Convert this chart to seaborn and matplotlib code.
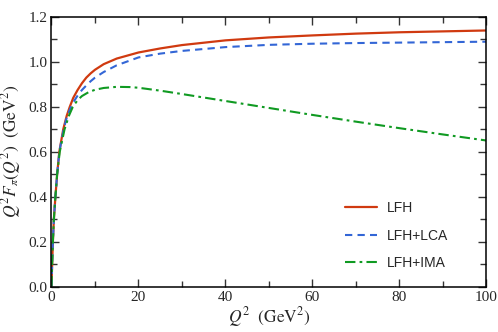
import matplotlib

matplotlib.use("Agg")
import matplotlib.pyplot as plt
import numpy as np
import pandas as pd
import seaborn as sns
from matplotlib.ticker import MultipleLocator, FormatStrFormatter

# values
q2_lfh = [0, 0.15, 0.32, 0.55, 0.9, 1.3, 1.8, 2.7, 3.5, 4.2, 5, 6, 7, 8, 9, 10, 12, 15, 20, 25, 30, 40, 50, 60, 70, 80, 90, 100]
f_lfh = [0, 0.10, 0.20, 0.30, 0.40, 0.50, 0.60, 0.70, 0.76, 0.80, 0.84, 0.875, 0.905, 0.93, 0.949, 0.965, 0.99, 1.015, 1.042, 1.060, 1.075, 1.096, 1.109, 1.118, 1.126, 1.132, 1.136, 1.140]

q2_lca = [0, 0.15, 0.32, 0.55, 0.9, 1.3, 1.8, 2.8, 3.6, 4.5, 5.2, 6, 7, 8, 9, 10, 12, 15, 20, 25, 30, 40, 50, 60, 70, 80, 90, 100]
f_lca = [0, 0.10, 0.20, 0.30, 0.40, 0.50, 0.60, 0.70, 0.76, 0.80, 0.826, 0.85, 0.875, 0.895, 0.914, 0.93, 0.955, 0.985, 1.020, 1.037, 1.049, 1.066, 1.076, 1.081, 1.084, 1.086, 1.088, 1.090]

q2_ima = [0, 0.15, 0.32, 0.55, 0.9, 1.3, 1.9, 3.0, 4.0, 4.9, 6, 7, 8.5, 10, 12, 15, 18, 20, 25, 30, 40, 50, 60, 70, 80, 90, 100]
f_ima = [0, 0.10, 0.20, 0.30, 0.40, 0.50, 0.60, 0.70, 0.76, 0.80, 0.83, 0.848, 0.865, 0.876, 0.884, 0.889, 0.888, 0.885, 0.872, 0.857, 0.826, 0.795, 0.764, 0.734, 0.705, 0.677, 0.650]

labels = ["LFH", "LFH+LCA", "LFH+IMA"]
colors = ["#d03a10", "#3366d6", "#109a22"]

sns.set_style("ticks")
plt.rcParams["font.family"] = ["Liberation Serif", "DejaVu Serif"]
plt.rcParams["mathtext.fontset"] = "stix"

fig = plt.figure(figsize=(4.98, 3.32), dpi=100)
ax = fig.add_axes([0.1034, 0.137, 0.8735, 0.8118])

sns.lineplot(x=q2_lfh, y=f_lfh, ax=ax, color=colors[0], lw=1.6, label=labels[0])
sns.lineplot(x=q2_lca, y=f_lca, ax=ax, color=colors[1], lw=1.5, label=labels[1],
             linestyle=(0, (3.5, 2.5)))
sns.lineplot(x=q2_ima, y=f_ima, ax=ax, color=colors[2], lw=1.5, label=labels[2],
             linestyle=(0, (5, 2, 1.3, 2)))

ax.set_xlim(0, 100)
ax.set_ylim(0, 1.2)
ax.xaxis.set_major_locator(MultipleLocator(20))
ax.xaxis.set_minor_locator(MultipleLocator(10))
ax.yaxis.set_major_locator(MultipleLocator(0.2))
ax.yaxis.set_minor_locator(MultipleLocator(0.1))
ax.yaxis.set_major_formatter(FormatStrFormatter("%.1f"))
ax.tick_params(which="both", direction="in", top=True, right=True, labelsize=11,
               color="#333333", width=1.0)
ax.tick_params(which="major", length=6, pad=3)
ax.tick_params(which="minor", length=4)
for sp in ax.spines.values():
    sp.set_linewidth(1.1)
    sp.set_color("black")

ax.set_xlabel(r"$Q^2\ \ (\mathrm{GeV}^2)$", fontsize=12.5, labelpad=1)
ax.set_ylabel(r"$Q^2F_\pi(Q^2)\ \ (\mathrm{GeV}^2)$", fontsize=12.5, labelpad=4)

ax.legend(loc="upper left", bbox_to_anchor=(0.675, 0.317), frameon=False,
          prop={"family": "Liberation Sans", "size": 10}, handlelength=2.28,
          handletextpad=0.72, labelspacing=0.98, borderpad=0, borderaxespad=0)

fig.savefig("out.png", dpi=100)
